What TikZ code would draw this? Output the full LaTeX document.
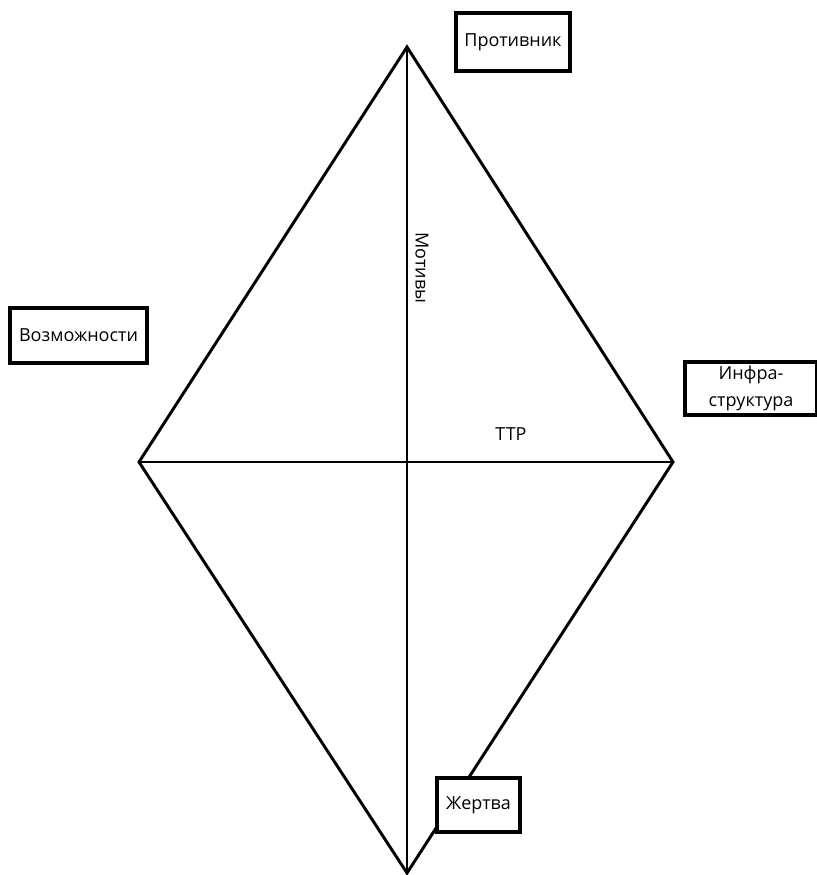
\documentclass[tikz,border=0pt]{standalone}
\usepackage{fontspec}
\setmainfont{Open Sans}
\usepackage{tikz}
\usetikzlibrary{positioning,calc}

\begin{document}
\begin{tikzpicture}[
    x=0.75pt, y=-0.75pt,
    edge/.style={line width=2.2pt, line join=miter},
    vertexbox/.style={rectangle, draw=black, fill=white, line width=3pt, align=center, font=\fontsize{13.5}{20}\selectfont, inner sep=2pt},
    caption/.style={font=\fontsize{13.5}{16}\selectfont, inner sep=1pt}
]
\useasboundingbox (0,0) rectangle (817,875);

% Diamond corners
\coordinate (top) at (407,47);
\coordinate (lft) at (139,462);
\coordinate (rgt) at (673,462);
\coordinate (bot) at (407,873);

% Outline and axes
\draw[edge] (top) -- (rgt) -- (bot) -- (lft) -- cycle;
\draw[edge] (top) -- (bot);
\draw[edge] (lft) -- (rgt);

% Vertex labels
\node[vertexbox, minimum width=85pt, minimum height=43pt] (adversary) at (513,42) {Противник};
\node[vertexbox, minimum width=103pt, minimum height=41pt] (capability) at (78.5,335.5) {Возможности};
\node[vertexbox, minimum width=99pt, minimum height=40pt] (infra) at (751,388.5) {Инфра-\\структура};
\node[vertexbox, minimum width=62pt, minimum height=40.5pt] (victim) at (478.5,805) {Жертва};

% Axis labels
\node[caption, rotate=-90] (motives) at (422,268) {Мотивы};
\node[caption] (ttp) at (511,434) {TTP};

\end{tikzpicture}
\end{document}
